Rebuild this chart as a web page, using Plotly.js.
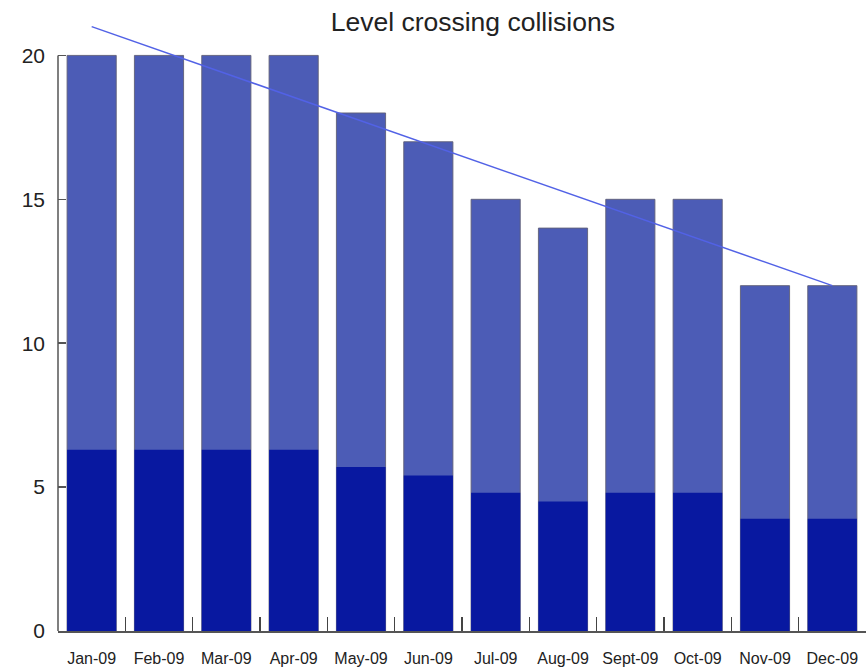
<!DOCTYPE html>
<html><head><meta charset="utf-8">
<script src="https://cdn.plot.ly/plotly-3.0.1.min.js"></script>
<style>html,body{margin:0;padding:0;background:#fff}#chart{width:866px;height:668px}</style>
</head><body><div id="chart"></div>
<script>
const months = ["Jan-09","Feb-09","Mar-09","Apr-09","May-09","Jun-09","Jul-09","Aug-09","Sept-09","Oct-09","Nov-09","Dec-09"];
const collisions = [20,20,20,20,18,17,15,14,15,15,12,12];
const darkPart = [6.3,6.3,6.3,6.3,5.7,5.4,4.8,4.5,4.8,4.8,3.9,3.9];
const trendMonths = ["Jan-09","Dec-09"];
const trendValues = [21.0,12.0];

const traces = [
  {type:'bar', x:months, y:collisions, marker:{color:'#4c5cb6', line:{color:'rgba(95,95,120,0.9)', width:1}}, hoverinfo:'skip'},
  {type:'bar', x:months, y:darkPart, marker:{color:'#0818a0', line:{width:0}}, hoverinfo:'skip'},
  {type:'scatter', mode:'lines', x:trendMonths, y:trendValues, line:{color:'#5262e6', width:1.5}, hoverinfo:'skip'}
];

const layout = {
  width:866, height:668,
  margin:{l:58, r:0, t:18, b:37},
  paper_bgcolor:'#fff', plot_bgcolor:'#fff',
  showlegend:false,
  barmode:'overlay', bargap:0.27,
  font:{family:'"Liberation Sans", Arial, sans-serif', color:'#222'},
  title:{text:'Level crossing collisions', font:{size:26.5, color:'#222'}, xref:'container', yref:'container', x:0.546, xanchor:'center', y:0.968, yanchor:'middle'},
  xaxis:{type:'category', range:[-0.5,11.5], showgrid:false, zeroline:false, showline:true, linecolor:'#555', linewidth:1.5,
         ticks:'inside', tickson:'boundaries', ticklen:14, tickcolor:'#444', tickwidth:1.5,
         tickfont:{size:16, color:'#222'}, ticklabelstandoff:12},
  yaxis:{range:[0,21.3], showgrid:false, zeroline:false, showline:false, tickvals:[0,5,10,15,20],
         ticks:'inside', ticklen:8, tickcolor:'#555', tickwidth:1.5,
         tickfont:{size:21, color:'#222'}, ticklabelstandoff:12},
  shapes:[{type:'line', xref:'paper', yref:'y', x0:0, x1:0, y0:0, y1:20, line:{color:'#555', width:1.5}}]
};
Plotly.newPlot('chart', traces, layout, {staticPlot:true, displayModeBar:false});
</script></body></html>
